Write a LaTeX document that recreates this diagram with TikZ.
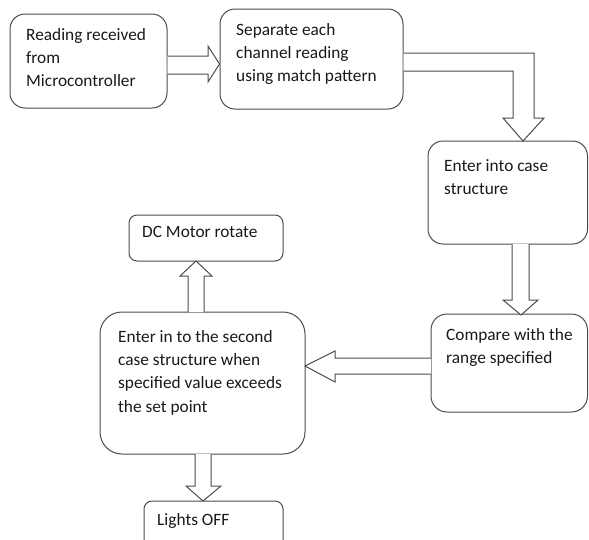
\documentclass[tikz,border=0pt]{standalone}
\usepackage{fontspec}
\setmainfont{Carlito}
\usetikzlibrary{fit}
\begin{document}
\begin{tikzpicture}[x=1pt,y=-1pt,
  box/.style={draw=black!70, line width=1pt, inner sep=0pt},
  label/.style={anchor=north west, inner sep=0pt, align=left,
    font={\fontsize{17.3}{23.3}\selectfont}, text=black!90},
  blk/.style={draw=black!70, line width=1pt, line join=miter, fill=white}]
\useasboundingbox (0,0) rectangle (589,539);
\clip (0,0) rectangle (589,539);

% process boxes
\node[box, rounded corners=15, fit={(10,14) (167,108)}] (b1) {};
\node[box, rounded corners=15, fit={(220,9) (403,109)}] (b2) {};
\node[box, rounded corners=15, fit={(428,141) (587.5,244)}] (b3) {};
\node[box, rounded corners=16, fit={(431,314) (587.5,412)}] (b4) {};
\node[box, rounded corners=22, fit={(100,312) (305,454)}] (b5) {};
\node[box, rounded corners=8, fit={(129,215) (283,261)}] (b6) {};
\node[box, rounded corners=8, fit={(144,501) (283,560)}] (b7) {};

% box texts
\node[label] (t1) at (26,28) {Reading received\\from\\Microcontroller};
\node[label] (t2) at (236,23) {Separate each\\channel reading\\using match pattern};
\node[label] (t3) at (444,159) {Enter into case\\structure};
\node[label] (t4) at (446,328) {Compare with the\\range specified};
\node[label] (t5) at (118,330) {Enter in to the second\\case structure when\\specified value exceeds\\the set point};
\node[label] (t6) at (142,226) {DC Motor rotate};
\node[label] (t7) at (157,513) {Lights OFF};

% block arrows between the boxes
\draw[blk] (b1.east |- 0,56) -- (208,56) -- (208,46) -- (b2.west |- 0,64)
  -- (208,82) -- (208,74) -- (b1.east |- 0,74);
\draw[blk] (b2.east |- 0,53) -- (534,53) -- (534,118) -- (544,118)
  -- (523,141) -- (503,118) -- (513,118) -- (513,71) -- (b2.east |- 0,71);
\draw[blk] (512,244) -- (512,300) -- (503,300) -- (521,315) -- (538,300)
  -- (529,300) -- (529,244);
\draw[blk] (431,358) -- (335,358) -- (335,351) -- (305,366) -- (335,382)
  -- (335,374) -- (431,374);
\draw[blk] (188,312) -- (188,276) -- (180,276) -- (196,261) -- (212,276)
  -- (204,276) -- (204,312);
\draw[blk] (195,454) -- (195,486) -- (186,486) -- (203,501) -- (221,486)
  -- (211,486) -- (211,454);
\end{tikzpicture}
\end{document}
